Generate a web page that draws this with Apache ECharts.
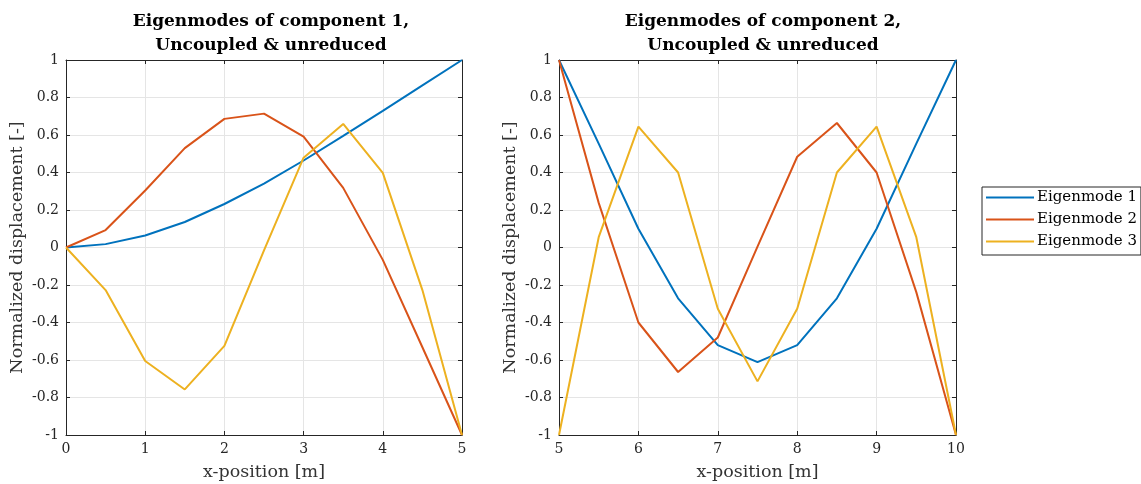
<!DOCTYPE html>
<html>
<head>
<meta charset="utf-8">
<script src="https://cdn.jsdelivr.net/npm/echarts@6/dist/echarts.min.js"></script>
<style>
  html, body { margin: 0; padding: 0; background: #fff; }
  #chart { width: 1141px; height: 484px; }
</style>
</head>
<body>
<div id="chart"></div>
<script>
// Eigenmodes of two components
var x1 = [0, 0.5, 1, 1.5, 2, 2.5, 3, 3.5, 4, 4.5, 5];
var x2 = [5, 5.5, 6, 6.5, 7, 7.5, 8, 8.5, 9, 9.5, 10];

var c1Mode1 = [0, 0.018, 0.064, 0.136, 0.232, 0.341, 0.464, 0.595, 0.729, 0.865, 1];
var c1Mode2 = [0, 0.093, 0.304, 0.53, 0.686, 0.714, 0.591, 0.318, -0.066, -0.532, -1];
var c1Mode3 = [0, -0.227, -0.605, -0.757, -0.525, -0.015, 0.479, 0.659, 0.398, -0.227, -1];

var c2Mode1 = [1, 0.554, 0.1, -0.271, -0.521, -0.611, -0.521, -0.271, 0.1, 0.554, 1];
var c2Mode2 = [1, 0.238, -0.4, -0.664, -0.48, 0.005, 0.484, 0.664, 0.4, -0.238, -1];
var c2Mode3 = [-1, 0.055, 0.645, 0.4, -0.327, -0.714, -0.327, 0.4, 0.645, 0.055, -1];

var modeNames = ['Eigenmode 1', 'Eigenmode 2', 'Eigenmode 3'];
var modeColors = ['#0072BD', '#D95319', '#EDB120'];

var FONT = '"DejaVu Serif", "Liberation Serif", serif';
var AXIS_COLOR = '#262626';

function pairs(xs, ys) {
  return xs.map(function(x, i) { return [x, ys[i]]; });
}

function fmtTick(v) {
  return String(Math.round(v * 10) / 10);
}

// main (bottom/left) axes with labels, grid lines and inward ticks
function mainX(gridIndex, min, max) {
  return {
    type: 'value', gridIndex: gridIndex, min: min, max: max, interval: 1,
    name: 'x-position [m]', nameLocation: 'middle', nameGap: 28,
    nameTextStyle: { fontFamily: FONT, fontSize: 17.5, color: '#333' },
    axisLine: { show: true, onZero: false, lineStyle: { color: AXIS_COLOR, width: 1 } },
    axisTick: { show: true, inside: true, length: 4, lineStyle: { color: AXIS_COLOR } },
    axisLabel: { fontFamily: FONT, fontSize: 14, color: '#262626', margin: 7 },
    splitLine: { show: true, lineStyle: { color: '#e5e5e5', width: 1 } }
  };
}

function mainY(gridIndex) {
  return {
    type: 'value', gridIndex: gridIndex, min: -1, max: 1, interval: 0.2,
    name: 'Normalized displacement [-]', nameLocation: 'middle', nameGap: 40,
    nameTextStyle: { fontFamily: FONT, fontSize: 17.5, color: '#333' },
    axisLine: { show: true, onZero: false, lineStyle: { color: AXIS_COLOR, width: 1 } },
    axisTick: { show: true, inside: true, length: 4, lineStyle: { color: AXIS_COLOR } },
    axisLabel: { fontFamily: FONT, fontSize: 14, color: '#262626', margin: 7, formatter: fmtTick },
    splitLine: { show: true, lineStyle: { color: '#e5e5e5', width: 1 } }
  };
}

// mirror axes for the box (top/right), ticks only
function boxX(gridIndex, min, max) {
  return {
    type: 'value', gridIndex: gridIndex, min: min, max: max, interval: 1, position: 'top',
    axisLine: { show: true, onZero: false, lineStyle: { color: AXIS_COLOR, width: 1 } },
    axisTick: { show: true, inside: true, length: 4, lineStyle: { color: AXIS_COLOR } },
    axisLabel: { show: false }, splitLine: { show: false }
  };
}

function boxY(gridIndex) {
  return {
    type: 'value', gridIndex: gridIndex, min: -1, max: 1, interval: 0.2, position: 'right',
    axisLine: { show: true, onZero: false, lineStyle: { color: AXIS_COLOR, width: 1 } },
    axisTick: { show: true, inside: true, length: 4, lineStyle: { color: AXIS_COLOR } },
    axisLabel: { show: false }, splitLine: { show: false }
  };
}

function lineSeries(name, idx, gridIdx, xs, ys) {
  return {
    name: name, type: 'line', xAxisIndex: gridIdx, yAxisIndex: gridIdx,
    data: pairs(xs, ys), showSymbol: false, symbol: 'none',
    lineStyle: { color: modeColors[idx], width: 2 },
    itemStyle: { color: modeColors[idx] },
    animation: false
  };
}

var chart = echarts.init(document.getElementById('chart'));
chart.setOption({
  animation: false,
  title: [
    {
      text: 'Eigenmodes of component 1,\nUncoupled & unreduced',
      left: 266, top: 5, textAlign: 'center',
      textStyle: { fontFamily: FONT, fontSize: 17, fontWeight: 'bold', color: '#000', lineHeight: 24 }
    },
    {
      text: 'Eigenmodes of component 2,\nUncoupled & unreduced',
      left: 758, top: 5, textAlign: 'center',
      textStyle: { fontFamily: FONT, fontSize: 17, fontWeight: 'bold', color: '#000', lineHeight: 24 }
    }
  ],
  legend: {
    orient: 'vertical', left: 982, top: 187,
    data: modeNames,
    icon: 'rect', itemWidth: 48, itemHeight: 2, itemGap: 7,
    padding: [3, 4, 6, 4],
    borderColor: '#262626', borderWidth: 1, backgroundColor: '#fff',
    textStyle: { fontFamily: FONT, fontSize: 15, color: '#000', padding: [0, 0, 0, -2] }
  },
  grid: [
    { left: 66, top: 60, width: 396, height: 375, outerBoundsMode: 'none' },
    { left: 559, top: 60, width: 397, height: 375, outerBoundsMode: 'none' }
  ],
  xAxis: [mainX(0, 0, 5), mainX(1, 5, 10), boxX(0, 0, 5), boxX(1, 5, 10)],
  yAxis: [mainY(0), mainY(1), boxY(0), boxY(1)],
  series: [
    lineSeries(modeNames[0], 0, 0, x1, c1Mode1),
    lineSeries(modeNames[1], 1, 0, x1, c1Mode2),
    lineSeries(modeNames[2], 2, 0, x1, c1Mode3),
    lineSeries(modeNames[0], 0, 1, x2, c2Mode1),
    lineSeries(modeNames[1], 1, 1, x2, c2Mode2),
    lineSeries(modeNames[2], 2, 1, x2, c2Mode3)
  ]
});
</script>
</body>
</html>
